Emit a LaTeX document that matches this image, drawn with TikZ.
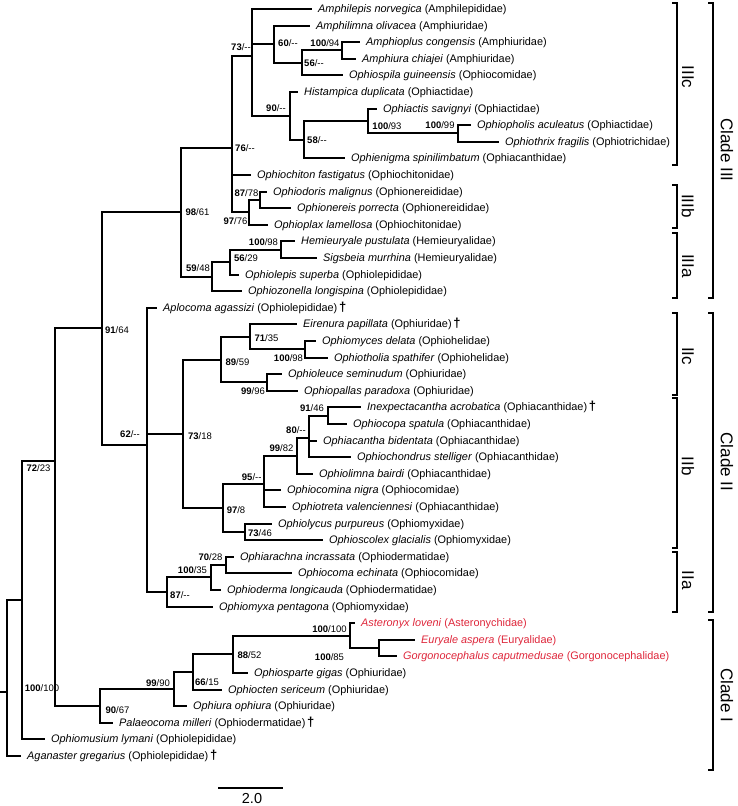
\documentclass[tikz,border=0pt]{standalone}
\usepackage{fontspec}
\setmainfont{Liberation Sans}
\definecolor{cred}{RGB}{222,38,58}
\newcommand\bsv[2]{\textbf{#1}/#2}
\newcommand\fossil{\,{\fontsize{13}{13}\selectfont\bfseries †}}
\newcommand\leafat[4]{\coordinate (l#1) at (#2,#3);\node[leaftext] (t#1) at ([xshift=6pt,yshift=-3.9pt]l#1) {#4};}
\newcommand\redleafat[4]{\coordinate (l#1) at (#2,#3);\node[leaftext,text=cred] (t#1) at ([xshift=6pt,yshift=-3.9pt]l#1) {#4};}
\begin{document}
\begin{tikzpicture}[x=1pt,y=-1pt,
  branch/.style={line width=2.6pt},
  brk/.style={line width=2pt},
  leaftext/.style={anchor=base west,inner sep=0pt,font=\fontsize{10.9}{12}\selectfont},
  sup/.style={anchor=base,inner sep=0pt,yshift=-3.4pt,font=\fontsize{9.5}{10}\selectfont},
  cladelab/.style={rotate=-90,inner sep=0pt,font=\fontsize{17}{18}\selectfont}]
\useasboundingbox (0,0) rectangle (737,806);
% leaves
\leafat{1}{312}{9}{\textit{Amphilepis norvegica} (Amphilepididae)}
\leafat{2}{310}{26}{\textit{Amphilimna olivacea} (Amphiuridae)}
\leafat{3}{360}{42}{\textit{Amphioplus congensis} (Amphiuridae)}
\leafat{4}{356}{59}{\textit{Amphiura chiajei} (Amphiuridae)}
\leafat{5}{343}{75}{\textit{Ophiospila guineensis} (Ophiocomidae)}
\leafat{6}{298}{92}{\textit{Histampica duplicata} (Ophiactidae)}
\leafat{7}{377}{109}{\textit{Ophiactis savignyi} (Ophiactidae)}
\leafat{8}{471}{125}{\textit{Ophiopholis aculeatus} (Ophiactidae)}
\leafat{9}{499}{142}{\textit{Ophiothrix fragilis} (Ophiotrichidae)}
\leafat{10}{345}{158}{\textit{Ophienigma spinilimbatum} (Ophiacanthidae)}
\leafat{11}{251}{175}{\textit{Ophiochiton fastigatus} (Ophiochitonidae)}
\leafat{12}{267}{192}{\textit{Ophiodoris malignus} (Ophionereididae)}
\leafat{13}{291}{208}{\textit{Ophionereis porrecta} (Ophionereididae)}
\leafat{14}{268}{225}{\textit{Ophioplax lamellosa} (Ophiochitonidae)}
\leafat{15}{295}{241}{\textit{Hemieuryale pustulata} (Hemieuryalidae)}
\leafat{16}{317}{258}{\textit{Sigsbeia murrhina} (Hemieuryalidae)}
\leafat{17}{239}{275}{\textit{Ophiolepis superba} (Ophiolepididae)}
\leafat{18}{242}{291}{\textit{Ophiozonella longispina} (Ophiolepididae)}
\leafat{19}{157}{308}{\textit{Aplocoma agassizi} (Ophiolepididae)\fossil}
\leafat{20}{297}{324}{\textit{Eirenura papillata} (Ophiuridae)\fossil}
\leafat{21}{316}{341}{\textit{Ophiomyces delata} (Ophiohelidae)}
\leafat{22}{328}{358}{\textit{Ophiotholia spathifer} (Ophiohelidae)}
\leafat{23}{282}{374}{\textit{Ophioleuce seminudum} (Ophiuridae)}
\leafat{24}{298}{391}{\textit{Ophiopallas paradoxa} (Ophiuridae)}
\leafat{25}{361}{407}{\textit{Inexpectacantha acrobatica} (Ophiacanthidae)\fossil}
\leafat{26}{347}{424}{\textit{Ophiocopa spatula} (Ophiacanthidae)}
\leafat{27}{317}{441}{\textit{Ophiacantha bidentata} (Ophiacanthidae)}
\leafat{28}{351}{457}{\textit{Ophiochondrus stelliger} (Ophiacanthidae)}
\leafat{29}{313}{474}{\textit{Ophiolimna bairdi} (Ophiacanthidae)}
\leafat{30}{281}{490}{\textit{Ophiocomina nigra} (Ophiocomidae)}
\leafat{31}{286}{507}{\textit{Ophiotreta valenciennesi} (Ophiacanthidae)}
\leafat{32}{272}{524}{\textit{Ophiolycus purpureus} (Ophiomyxidae)}
\leafat{33}{323}{540}{\textit{Ophioscolex glacialis} (Ophiomyxidae)}
\leafat{34}{234}{557}{\textit{Ophiarachna incrassata} (Ophiodermatidae)}
\leafat{35}{292}{573}{\textit{Ophiocoma echinata} (Ophiocomidae)}
\leafat{36}{221}{590}{\textit{Ophioderma longicauda} (Ophiodermatidae)}
\leafat{37}{213}{607}{\textit{Ophiomyxa pentagona} (Ophiomyxidae)}
\redleafat{38}{355}{623}{\textit{Asteronyx loveni} (Asteronychidae)}
\redleafat{39}{415}{640}{\textit{Euryale aspera} (Euryalidae)}
\redleafat{40}{397}{656}{\textit{Gorgonocephalus caputmedusae} (Gorgonocephalidae)}
\leafat{41}{248}{673}{\textit{Ophiosparte gigas} (Ophiuridae)}
\leafat{42}{222}{690}{\textit{Ophiocten sericeum} (Ophiuridae)}
\leafat{43}{187}{706}{\textit{Ophiura ophiura} (Ophiuridae)}
\leafat{44}{113}{723}{\textit{Palaeocoma milleri} (Ophiodermatidae)\fossil}
\leafat{45}{45}{739}{\textit{Ophiomusium lymani} (Ophiolepididae)}
\leafat{46}{21}{756}{\textit{Aganaster gregarius} (Ophiolepididae)\fossil}
% internal nodes
\coordinate (n73) at (252,56);
\coordinate (n60) at (274,44);
\coordinate (n56) at (302,63);
\coordinate (n100a) at (342,50);
\coordinate (n90) at (290,116);
\coordinate (n58) at (304,140);
\coordinate (n100b) at (368,121);
\coordinate (n100c) at (458,133);
\coordinate (n76) at (232,148);
\coordinate (n97a) at (249,212);
\coordinate (n87a) at (260,200);
\coordinate (n98) at (181,212);
\coordinate (n59) at (212,277);
\coordinate (n56b) at (230,262);
\coordinate (n100d) at (281,250);
\coordinate (n91) at (102,328);
\coordinate (n62) at (147,445);
\coordinate (n73b) at (183,434);
\coordinate (n89) at (221,360);
\coordinate (n71) at (250,337);
\coordinate (n100e) at (305,349);
\coordinate (n99a) at (267,382);
\coordinate (n97b) at (223,508);
\coordinate (n95) at (264,484);
\coordinate (n99b) at (297,456);
\coordinate (n80) at (309,438);
\coordinate (n91b) at (328,416);
\coordinate (n73c) at (245,532);
\coordinate (n87b) at (167,592);
\coordinate (n100f) at (211,577);
\coordinate (n70) at (226,565);
\coordinate (nB) at (55,461);
\coordinate (n90b) at (100,706);
\coordinate (n99c) at (174,689);
\coordinate (n66) at (193,672);
\coordinate (n88) at (233,654);
\coordinate (n100g) at (350,636);
\coordinate (n100h) at (379,648);
\coordinate (nA) at (22,600);
\coordinate (root) at (7,692);
\coordinate (r0) at (0,692);
% branches
\draw[branch] (r0) -- (root);
\foreach \p/\c in {n73/l1,n73/n60,n73/n90,n60/l2,n60/n56,n56/n100a,n56/l5,n100a/l3,n100a/l4,
  n90/l6,n90/n58,n58/n100b,n58/l10,n100b/l7,n100b/n100c,n100c/l8,n100c/l9,
  n76/n73,n76/l11,n76/n97a,n97a/n87a,n97a/l14,n87a/l12,n87a/l13,
  n98/n76,n98/n59,n59/n56b,n59/l18,n56b/n100d,n56b/l17,n100d/l15,n100d/l16,
  n91/n98,n91/n62,n62/l19,n62/n73b,n62/n87b,n73b/n89,n73b/n97b,
  n89/n71,n89/n99a,n71/l20,n71/n100e,n100e/l21,n100e/l22,n99a/l23,n99a/l24,
  n97b/n95,n97b/n73c,n95/n99b,n95/l30,n95/l31,n99b/n80,n99b/l29,
  n80/n91b,n80/l27,n80/l28,n91b/l25,n91b/l26,n73c/l32,n73c/l33,
  n87b/n100f,n87b/l37,n100f/n70,n100f/l36,n70/l34,n70/l35,
  nB/n91,nB/n90b,n90b/n99c,n90b/l44,n99c/n66,n99c/l43,n66/n88,n66/l42,
  n88/n100g,n88/l41,n100g/l38,n100g/n100h,n100h/l39,n100h/l40,
  nA/nB,nA/l45,root/nA,root/l46}
  \draw[branch] (\p) |- (\c);
% support labels
\node[sup] (s73) at (241,47) {\bsv{73}{-{}-}};
\node[sup] (s60) at (288,43) {\bsv{60}{-{}-}};
\node[sup] (s56) at (314,63) {\bsv{56}{-{}-}};
\node[sup] (s100a) at (325,43) {\bsv{100}{94}};
\node[sup] (s90) at (276,108) {\bsv{90}{-{}-}};
\node[sup] (s58) at (317,140) {\bsv{58}{-{}-}};
\node[sup] (s100b) at (387,126) {\bsv{100}{93}};
\node[sup] (s100c) at (440,125) {\bsv{100}{99}};
\node[sup] (s76) at (245,148) {\bsv{76}{-{}-}};
\node[sup] (s87a) at (246.5,193) {\bsv{87}{78}};
\node[sup] (s97a) at (235.5,221) {\bsv{97}{76}};
\node[sup] (s98) at (197.5,212) {\bsv{98}{61}};
\node[sup] (s100d) at (263.5,242) {\bsv{100}{98}};
\node[sup] (s56b) at (246,258) {\bsv{56}{29}};
\node[sup] (s59) at (198,268) {\bsv{59}{48}};
\node[sup] (s91) at (117,330) {\bsv{91}{64}};
\node[sup] (s71) at (266.5,338) {\bsv{71}{35}};
\node[sup] (s100e) at (288.5,358) {\bsv{100}{98}};
\node[sup] (s89) at (237.5,362) {\bsv{89}{59}};
\node[sup] (s99a) at (253,391) {\bsv{99}{96}};
\node[sup] (s91b) at (312,408) {\bsv{91}{46}};
\node[sup] (s80) at (296,430) {\bsv{80}{-{}-}};
\node[sup] (s62) at (130,434) {\bsv{62}{-{}-}};
\node[sup] (s73b) at (200,436) {\bsv{73}{18}};
\node[sup] (s99b) at (281.5,448) {\bsv{99}{82}};
\node[sup] (sB) at (38.5,468) {\bsv{72}{23}};
\node[sup] (s95) at (251.7,477) {\bsv{95}{-{}-}};
\node[sup] (s97b) at (236,510) {\bsv{97}{8}};
\node[sup] (s73c) at (260,533) {\bsv{73}{46}};
\node[sup] (s70) at (210.5,557) {\bsv{70}{28}};
\node[sup] (s100f) at (192.5,570) {\bsv{100}{35}};
\node[sup] (s87b) at (180,595) {\bsv{87}{-{}-}};
\node[sup] (s100g) at (329.5,629) {\bsv{100}{100}};
\node[sup] (s100h) at (329.5,657) {\bsv{100}{85}};
\node[sup] (s88) at (249.5,655) {\bsv{88}{52}};
\node[sup] (s66) at (207,682) {\bsv{66}{15}};
\node[sup] (s99c) at (158,683) {\bsv{99}{90}};
\node[sup] (sA) at (42,688) {\bsv{100}{100}};
\node[sup] (s90b) at (117.5,710) {\bsv{90}{67}};
% brackets
\draw[brk] (672,3) -| (677,165) -- (672,165);
\draw[brk] (672,185) -| (677,228) -- (672,228);
\draw[brk] (672,233) -| (677,298) -- (672,298);
\draw[brk] (672,313) -| (677,395) -- (672,395);
\draw[brk] (672,398) -| (677,548) -- (672,548);
\draw[brk] (672,552) -| (677,612) -- (672,612);
\draw[brk] (708,3) -| (713,298) -- (708,298);
\draw[brk] (708,313) -| (713,612) -- (708,612);
\draw[brk] (708,620) -| (713,770) -- (708,770);
\node[cladelab] (cIIIc) at (688,77) {IIIc};
\node[cladelab] (cIIIb) at (688,206) {IIIb};
\node[cladelab] (cIIIa) at (688,266) {IIIa};
\node[cladelab] (cIIc) at (688,356) {IIc};
\node[cladelab] (cIIb) at (688,466) {IIb};
\node[cladelab] (cIIa) at (688,580) {IIa};
\node[cladelab] (cIII) at (727,150) {Clade III};
\node[cladelab] (cII) at (727,462) {Clade II};
\node[cladelab] (cI) at (727,695) {Clade I};
% scale bar
\coordinate (sb1) at (218,788);
\coordinate (sb2) at (283,788);
\draw[line width=1.4pt] (sb1) -- (sb2);
\node[anchor=base,inner sep=0pt,font=\fontsize{14.5}{15}\selectfont] (sbl) at (252,803) {2.0};
\end{tikzpicture}
\end{document}
